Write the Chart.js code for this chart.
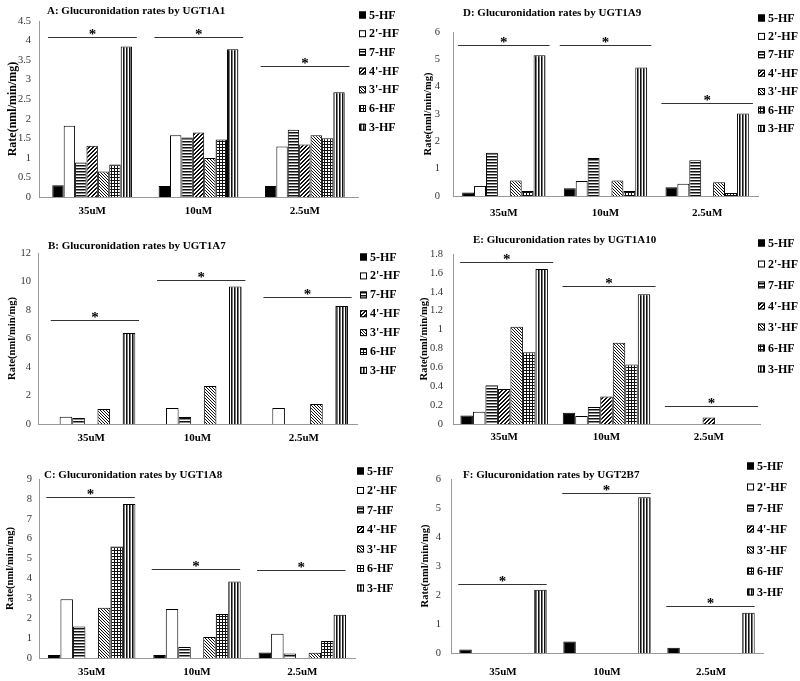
<!DOCTYPE html>
<html>
<head>
<meta charset="utf-8">
<script src="https://cdn.jsdelivr.net/npm/chart.js@4.4.1/dist/chart.umd.min.js"></script>
<style>
  body { margin: 0; background: #fff; width: 800px; height: 681px; position: relative; overflow: hidden; }
  canvas { position: absolute; }
</style>
</head>
<body>
<script>
// categories and series names
const concentrations = ['35uM', '10uM', '2.5uM'];
const compounds = ['5-HF', "2'-HF", '7-HF', "4'-HF", "3'-HF", '6-HF', '3-HF'];
const titles = [
  'A: Glucuronidation rates by UGT1A1',
  'B: Glucuronidation rates by UGT1A7',
  'C: Glucuronidation rates by UGT1A8',
  'D: Glucuronidation rates by UGT1A9',
  'E: Glucuronidation rates by UGT1A10',
  'F: Glucuronidation rates by UGT2B7'
];

// rates (nml/min/mg): one row per compound, one column per concentration
const ugt1a1 = [
  [0.30, 0.28, 0.28],
  [1.82, 1.58, 1.29],
  [0.88, 1.52, 1.72],
  [1.31, 1.65, 1.34],
  [0.65, 1.00, 1.58],
  [0.83, 1.47, 1.50],
  [3.85, 3.78, 2.68]
];
const ugt1a7 = [
  [0, 0, 0],
  [0.51, 1.12, 1.12],
  [0.42, 0.49, 0],
  [0, 0, 0],
  [1.05, 2.66, 1.40],
  [0, 0, 0],
  [6.39, 9.65, 8.28]
];
const ugt1a8 = [
  [0.15, 0.15, 0.28],
  [2.96, 2.46, 1.22],
  [1.59, 0.55, 0.23],
  [0, 0, 0],
  [2.53, 1.06, 0.27],
  [5.61, 2.21, 0.85],
  [7.74, 3.85, 2.18]
];
const ugt1a9 = [
  [0.13, 0.28, 0.32],
  [0.37, 0.55, 0.45],
  [1.58, 1.39, 1.31],
  [0, 0, 0],
  [0.57, 0.57, 0.50],
  [0.18, 0.18, 0.11],
  [5.15, 4.70, 3.02]
];
const ugt1a10 = [
  [0.09, 0.12, 0],
  [0.13, 0.085, 0],
  [0.41, 0.18, 0],
  [0.37, 0.29, 0.07],
  [1.03, 0.86, 0],
  [0.76, 0.63, 0],
  [1.64, 1.375, 0]
];
const ugt2b7 = [
  [0.12, 0.40, 0.18],
  [0, 0, 0],
  [0, 0, 0],
  [0, 0, 0],
  [0, 0, 0],
  [0, 0, 0],
  [2.18, 5.37, 1.39]
];

// height of the significance bar (*) over each concentration group
const ugt1a1Stars = [4.09, 4.09, 3.35];
const ugt1a7Stars = [7.3, 10.14, 8.88];
const ugt1a8Stars = [8.12, 4.47, 4.44];
const ugt1a9Stars = [5.54, 5.54, 3.42];
const ugt1a10Stars = [1.715, 1.457, 0.19];
const ugt2b7Stars = [2.38, 5.52, 1.61];

// y axis ticks: [max, step]
const ugt1a1Axis = [4.5, 0.5];
const ugt1a7Axis = [12, 2];
const ugt1a8Axis = [9, 1];
const ugt1a9Axis = [6, 1];
const ugt1a10Axis = [1.8, 0.2];
const ugt2b7Axis = [6, 1];

const FONT = "'Liberation Serif', 'Times New Roman', serif";

// fill patterns for the bars
function hatch(kind) {
  const c = document.createElement('canvas');
  const s = kind === 'fwd' ? 4 : 3;
  c.width = c.height = s;
  const g = c.getContext('2d');
  g.fillStyle = '#fff';
  g.fillRect(0, 0, s, s);
  g.fillStyle = '#111';
  if (kind === 'h') {
    g.fillRect(0, 0, s, 1);
    g.fillStyle = '#888';
    g.fillRect(0, 1, s, 1);
  }
  if (kind === 'v') {
    g.fillRect(0, 0, 1, s);
    g.fillStyle = '#777';
    g.fillRect(1, 0, 1, s);
  }
  if (kind === 'grid') { g.fillRect(0, 0, s, 1); g.fillRect(0, 0, 1, s); }
  if (kind === 'fwd') {
    for (let i = 0; i < s; i++) {
      g.fillRect(i, s - 1 - i, 1, 1);
      g.fillRect(i, (s - i) % s, 1, 1);
    }
  }
  if (kind === 'back') for (let i = 0; i < s; i++) g.fillRect(i, i, 1, 1);
  return g.createPattern(c, 'repeat');
}
const fills = ['#000', '#fff', hatch('h'), hatch('fwd'), hatch('back'), hatch('grid'), hatch('v')];

// page layout of each panel
const panels = [
  {title: titles[0], rates: ugt1a1, stars: ugt1a1Stars, axis: ugt1a1Axis,
   box: [0, 0, 400, 220], area: [39, 21, 358, 197], titleAt: [47, 11], legend: [359, 15, 18.7],
   cat: 0.75, span: [0.085, 0.92], yTitleX: 13, ySize: 12, yPad: 8, xPad: 7.4},
  {title: titles[1], rates: ugt1a7, stars: ugt1a7Stars, axis: ugt1a7Axis,
   box: [0, 220, 400, 225], area: [38, 253, 357, 424], titleAt: [48, 246], legend: [360, 257, 18.9],
   cat: 0.83, span: [0.12, 0.95], yTitleX: 12, ySize: 10.5, yPad: 7, xPad: 7.4},
  {title: titles[2], rates: ugt1a8, stars: ugt1a8Stars, axis: ugt1a8Axis,
   box: [0, 445, 400, 236], area: [39, 479, 355, 658], titleAt: [44, 475], legend: [357, 471, 19.5],
   cat: 0.83, span: [0.07, 0.91], yTitleX: 10, ySize: 10.5, yPad: 7, xPad: 7.4},
  {title: titles[3], rates: ugt1a9, stars: ugt1a9Stars, axis: ugt1a9Axis,
   box: [400, 0, 400, 220], area: [453, 32, 758, 196], titleAt: [463, 13], legend: [758, 18, 18.4],
   cat: 0.82, span: [0.05, 0.95], yTitleX: 428, ySize: 10.5, yPad: 13, xPad: 10.4},
  {title: titles[4], rates: ugt1a10, stars: ugt1a10Stars, axis: ugt1a10Axis,
   box: [400, 220, 400, 225], area: [453, 254, 760, 424], titleAt: [473, 240], legend: [758, 243, 21],
   cat: 0.855, span: [0.07, 0.98], yTitleX: 424, ySize: 10.5, yPad: 10, xPad: 7},
  {title: titles[5], rates: ugt2b7, stars: ugt2b7Stars, axis: ugt2b7Axis,
   box: [400, 445, 400, 236], area: [451, 479, 763, 653], titleAt: [463, 475], legend: [747, 466, 21],
   cat: 0.84, span: [0.07, 0.92], yTitleX: 425, ySize: 10.5, yPad: 10, xPad: 12.4}
];

// title, legend and significance bars drawn on top of each panel
const extras = {
  id: 'extras',
  afterDraw(chart, args, p) {
    const ctx = chart.ctx;
    const [ox, oy] = p.box;
    const xs = chart.scales.x, ys = chart.scales.y;
    ctx.save();
    ctx.fillStyle = '#000';
    ctx.font = 'bold 11px ' + FONT;
    ctx.textAlign = 'left';
    ctx.textBaseline = 'middle';
    ctx.fillText(p.title, p.titleAt[0] - ox, p.titleAt[1] - oy);

    // legend
    const [lx, ly, dy] = p.legend;
    ctx.font = 'bold 12px ' + FONT;
    chart.data.datasets.forEach((ds, k) => {
      const y = ly - oy + k * dy;
      ctx.fillStyle = ds.backgroundColor;
      ctx.fillRect(lx - ox, y - 3.5, 7, 7);
      ctx.strokeStyle = '#000';
      ctx.lineWidth = 1;
      ctx.strokeRect(lx - ox + 0.5, y - 3, 6, 6);
      ctx.fillStyle = '#000';
      ctx.fillText(ds.label, lx - ox + 10, y + 0.5);
    });

    // significance lines with stars
    const w = (xs.right - xs.left) / concentrations.length;
    ctx.strokeStyle = '#333';
    ctx.lineWidth = 1;
    ctx.textAlign = 'center';
    ctx.textBaseline = 'alphabetic';
    ctx.font = 'bold 15px ' + FONT;
    p.stars.forEach((v, i) => {
      const c0 = xs.getPixelForValue(i) - w / 2;
      const y = Math.round(ys.getPixelForValue(v)) + 0.5;
      ctx.beginPath();
      ctx.moveTo(c0 + p.span[0] * w, y);
      ctx.lineTo(c0 + p.span[1] * w, y);
      ctx.stroke();
      ctx.fillText('*', c0 + (p.span[0] + p.span[1]) / 2 * w, y + 1);
    });
    ctx.restore();
  }
};

panels.forEach(p => {
  const [ox, oy, W, H] = p.box;
  const canvas = document.createElement('canvas');
  canvas.width = W;
  canvas.height = H;
  canvas.style.left = ox + 'px';
  canvas.style.top = oy + 'px';
  document.body.appendChild(canvas);

  const padLeft = p.yTitleX - ox - p.ySize * 0.6;
  const yWidth = p.area[0] - ox - padLeft;
  const xHeight = oy + H - p.area[3];

  new Chart(canvas, {
    type: 'bar',
    data: {
      labels: concentrations,
      datasets: compounds.map((name, k) => ({
        label: name,
        data: p.rates[k],
        backgroundColor: fills[k],
        borderColor: '#000',
        borderWidth: 1,
        categoryPercentage: p.cat,
        barPercentage: 1
      }))
    },
    options: {
      responsive: false,
      animation: false,
      devicePixelRatio: 1,
      layout: {padding: {left: padLeft, top: p.area[1] - oy, right: ox + W - p.area[2], bottom: 0}},
      plugins: {legend: {display: false}, tooltip: {enabled: false}, extras: p},
      scales: {
        x: {
          grid: {display: false, drawTicks: false},
          border: {color: '#999'},
          ticks: {font: {family: FONT, size: 11, weight: 'bold'}, color: '#000', padding: p.xPad},
          afterFit: s => { s.height = xHeight; }
        },
        y: {
          min: 0,
          max: p.axis[0],
          grid: {display: false, drawTicks: false},
          border: {color: '#999'},
          ticks: {stepSize: p.axis[1], font: {family: FONT, size: 10.5}, color: '#333', padding: p.yPad,
                  callback: v => String(+v.toFixed(2))},
          title: {display: true, text: 'Rate(nml/min/mg)', font: {family: FONT, size: p.ySize, weight: 'bold'},
                  color: '#000', padding: 0},
          afterFit: s => { s.width = yWidth; }
        }
      }
    },
    plugins: [extras]
  });
});
</script>
</body>
</html>
